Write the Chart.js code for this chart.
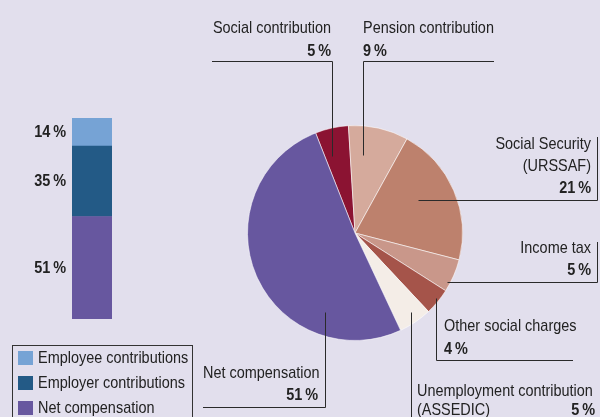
<!DOCTYPE html>
<html>
<head>
<meta charset="utf-8">
<script src="https://cdn.jsdelivr.net/npm/chart.js@4/dist/chart.umd.min.js"></script>
<style>
  html, body { margin: 0; padding: 0; }
  body { width: 600px; height: 417px; background: #e2dfed; position: relative; overflow: hidden;
         font-family: 'Liberation Sans', Arial, sans-serif; color: #222; }
  canvas { position: absolute; left: 0; top: 0; }
  #legend { position: absolute; left: 12px; top: 345px; width: 181px; height: 90px; border: 1px solid #333; box-sizing: border-box; }
  .row { position: absolute; left: 5px; height: 15px; }
  .sw { position: absolute; left: 0; top: 0; width: 15px; height: 14px; }
  .lbl { position: absolute; left: 20px; top: -2px; font-size: 17px; line-height: 17px; white-space: nowrap;
         transform: scaleX(0.85); transform-origin: 0 0; }
</style>
</head>
<body>
<canvas id="pie" width="600" height="417"></canvas>
<canvas id="bar" width="200" height="417"></canvas>
<div id="legend"></div>
<script>
// pie: breakdown of gross labour cost, clockwise from the top
const sliceNames = [['Social contribution'], ['Pension contribution'], ['Social Security', '(URSSAF)'],
  ['Income tax'], ['Other social charges'], ['Unemployment contribution', '(ASSEDIC)'], ['Net compensation']];
const sliceValues = [5, 9, 21, 5, 4, 5, 51];
const sliceColors = ['#8b1332', '#d5aa9c', '#bd816d', '#c9978a', '#a5544a', '#f4ede7', '#67579f'];

// stacked bar, bottom to top
const barNames = ['Net compensation', 'Employer contributions', 'Employee contributions'];
const barValues = [51, 35, 14];
const barColors = ['#67579f', '#235a86', '#76a3d5'];

const FONT = "'Liberation Sans', Arial, sans-serif";
const NARROW = 0.85;
const pct = v => v + '\u2009%';

// condensed text: regular face squeezed horizontally
function narrowText(ctx, text, x, y, align, bold) {
  ctx.save();
  ctx.font = (bold ? 'bold ' : '') + '17px ' + FONT;
  ctx.textAlign = align;
  ctx.translate(x, y);
  ctx.scale(NARROW, 1);
  ctx.fillText(text, 0, 0);
  ctx.restore();
}

// callout placement for each slice: text block, percent, leader line
// leader: t = position along the slice, f = fraction of radius,
// 'v' = vertical from the slice then horizontal, 'h' = horizontal then vertical
const callouts = [
  { x: 331, y: 33, lh: 22, align: 'right', px: 331, py: 56, pa: 'right', t: .28, f: .75, kind: 'v', to: 61, end: 212 },
  { x: 363, y: 33, lh: 22, align: 'left', px: 363, py: 56, pa: 'left', t: .29, f: .73, kind: 'v', to: 61, end: 494 },
  { x: 591, y: 149, lh: 22, align: 'right', px: 591, py: 193, pa: 'right', t: .44, f: .66, kind: 'h', to: 597, end: 137 },
  { x: 591, y: 253, lh: 22, align: 'right', px: 591, py: 275, pa: 'right', t: .74, f: .97, kind: 'h', to: 597, end: 242 },
  { x: 444, y: 331, lh: 22, align: 'left', px: 444, py: 354, pa: 'left', t: .44, f: .97, kind: 'v', to: 360, end: 573 },
  { x: 417, y: 396, lh: 19, align: 'left', px: 595, py: 415, pa: 'right', t: .41, f: .9, kind: 'v', to: 420, end: null },
  { x: 203, y: 378, lh: 22, align: 'left', px: 318, py: 400, pa: 'right', t: .25, f: .79, kind: 'v', to: 407, end: 203 }
];

const calloutPlugin = {
  id: 'callouts',
  afterDraw(chart) {
    const ctx = chart.ctx;
    const arcs = chart.getDatasetMeta(0).data;
    ctx.save();
    ctx.strokeStyle = '#2a2a2a';
    ctx.lineWidth = 1;
    ctx.fillStyle = '#222';
    ctx.textBaseline = 'alphabetic';
    arcs.forEach((arc, i) => {
      const c = callouts[i];
      const p = arc.getProps(['x', 'y', 'startAngle', 'endAngle', 'outerRadius'], true);
      const a = p.startAngle + c.t * (p.endAngle - p.startAngle);
      const ax = Math.round(p.x + Math.cos(a) * p.outerRadius * c.f) + .5;
      const ay = Math.round(p.y + Math.sin(a) * p.outerRadius * c.f) + .5;
      ctx.beginPath();
      ctx.moveTo(ax, ay);
      if (c.kind === 'v') {
        ctx.lineTo(ax, c.to + .5);
        if (c.end !== null) ctx.lineTo(c.end, c.to + .5);
      } else {
        ctx.lineTo(c.to + .5, ay);
        ctx.lineTo(c.to + .5, c.end);
      }
      ctx.stroke();

      chart.data.labels[i].forEach((line, k) => narrowText(ctx, line, c.x, c.y + k * c.lh, c.align, false));
      narrowText(ctx, pct(chart.data.datasets[0].data[i]), c.px, c.py, c.pa, true);
    });
    ctx.restore();
  }
};

new Chart(document.getElementById('pie'), {
  type: 'pie',
  data: {
    labels: sliceNames,
    datasets: [{ data: sliceValues, backgroundColor: sliceColors, borderColor: 'rgba(255,255,255,0.55)', borderWidth: 1 }]
  },
  options: {
    responsive: false,
    animation: false,
    rotation: -21.5,
    layout: { padding: { left: 247, right: 137, top: 125, bottom: 76 } },
    plugins: { legend: { display: false }, tooltip: { enabled: false } }
  },
  plugins: [calloutPlugin]
});

// percent labels to the left of each bar segment
const barLabelPlugin = {
  id: 'barLabels',
  afterDraw(chart) {
    const ctx = chart.ctx;
    ctx.save();
    ctx.fillStyle = '#222';
    chart.data.datasets.forEach((ds, i) => {
      const bar = chart.getDatasetMeta(i).data[0];
      const { y, base } = bar.getProps(['y', 'base'], true);
      narrowText(ctx, pct(ds.data[0]), 66, (y + base) / 2 + 5, 'right', true);
    });
    ctx.restore();
  }
};

new Chart(document.getElementById('bar'), {
  type: 'bar',
  data: {
    labels: [''],
    datasets: barNames.map((n, i) => ({ label: n, data: [barValues[i]], backgroundColor: barColors[i], borderWidth: 0 }))
  },
  options: {
    responsive: false,
    animation: false,
    barPercentage: 1,
    categoryPercentage: 1,
    layout: { padding: { left: 72, right: 88, top: 118, bottom: 98 } },
    scales: {
      x: { stacked: true, display: false },
      y: { stacked: true, display: false, min: 0, max: 100 }
    },
    plugins: { legend: { display: false }, tooltip: { enabled: false } }
  },
  plugins: [barLabelPlugin]
});

// legend box, top to bottom
const legend = document.getElementById('legend');
[2, 1, 0].forEach((i, k) => {
  const row = document.createElement('div');
  row.className = 'row';
  row.style.top = (5 + k * 25) + 'px';
  row.innerHTML = `<span class="sw" style="background:${barColors[i]}"></span><span class="lbl">${barNames[i]}</span>`;
  legend.appendChild(row);
});
</script>
</body>
</html>
